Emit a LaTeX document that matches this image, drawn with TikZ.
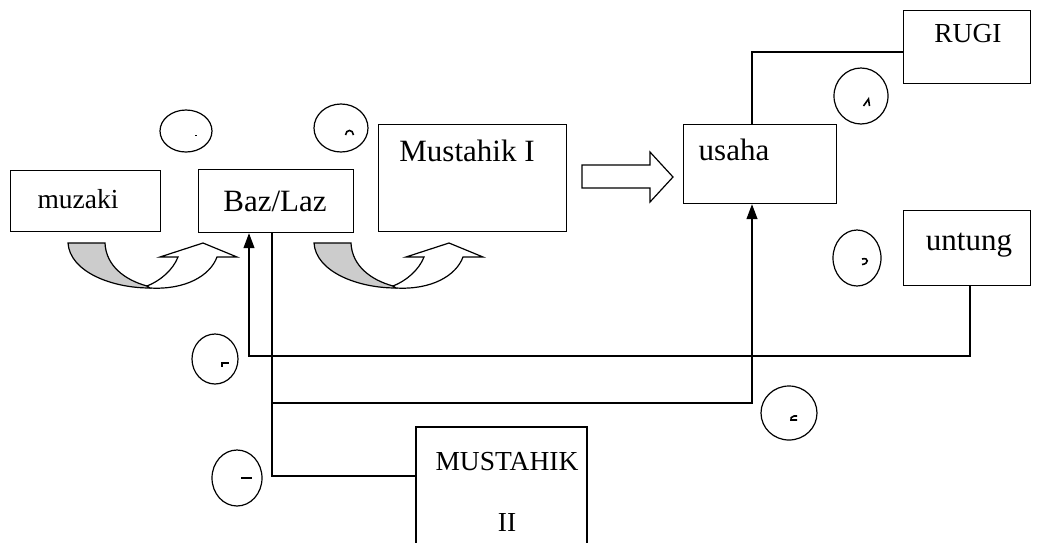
\documentclass[tikz,border=0pt]{standalone}
\usepackage{fontspec}
\setmainfont{Liberation Serif}
\usetikzlibrary{arrows.meta}
\begin{document}
\begin{tikzpicture}[x=1pt,y=-1pt,line width=1.2pt,
  box/.style={draw,rectangle,inner sep=0pt,anchor=north west},
  lbl/.style={inner sep=0pt,font=\fontsize{27.5}{33}\selectfont},
  lblb/.style={inner sep=0pt,font=\fontsize{31}{36}\selectfont},
  arr/.style={-{Triangle[length=15pt,width=11pt]}},
  frag/.style={line width=1.6pt}]
\useasboundingbox (0,0) rectangle (1041,542);
% boxes
\node[box,minimum width=150pt,minimum height=61pt] (muzaki) at (10,170) {};
\node[box,minimum width=155pt,minimum height=63pt] (baz) at (198,169) {};
\node[box,minimum width=188pt,minimum height=107pt] (must1) at (378,124) {};
\node[box,minimum width=153pt,minimum height=79pt] (usaha) at (683,124) {};
\node[box,minimum width=127pt,minimum height=73pt] (rugi) at (903,10) {};
\node[box,minimum width=127pt,minimum height=75pt] (untung) at (903,210) {};
\coordinate (m2nw) at (416,427);
\coordinate (m2ne) at (587,427);
\node[inner sep=0pt,anchor=west,minimum height=1pt] (m2) at (416,476) {};
\draw (416,560) -- (m2nw) -- (m2ne) -- (587,560);
% labels
\node[lbl] (tmuzaki) at (78,199) {muzaki};
\node[lblb] (tbaz) at (275,201) {Baz/Laz};
\node[lblb] (tmust1) at (467,151) {Mustahik I};
\node[lblb] (tusaha) at (734,150) {usaha};
\node[lbl] (trugi) at (968,34) {RUGI};
\node[lblb] (tuntung) at (969,245) {untung};
\node[lbl] (tm2a) at (507,462) {MUSTAHIK};
\node[lbl] (tm2b) at (507,522) {II};
% circles
\draw (186,131) ellipse (26pt and 21pt);
\draw (341,128) ellipse (27pt and 24pt);
\draw (861,96) ellipse (27pt and 28pt);
\draw (857,258) ellipse (24pt and 28pt);
\draw (215,359) ellipse (23pt and 25pt);
\draw (789,413) ellipse (28pt and 27pt);
\draw (237,478) ellipse (25pt and 28pt);
% clipped glyph fragments
\draw[line width=0.8pt] (195,135) -- (197,135);
\draw[frag] (345.5,135) .. controls (346,129) and (353,129) .. (353.5,135);
\draw[frag] (863.5,106) -- (868.5,99) -- (869.5,106);
\draw[frag] (862,259) .. controls (869,257) and (869,264) .. (862,264.5);
\draw[frag] (221,363) -- (229,363);
\draw[frag] (222,362.5) -- (222,367);
\draw[frag] (797,416) -- (794,416) .. controls (791,416) and (790.5,419) .. (791,420) -- (797,420);
\draw[frag] (241,478) -- (252,478);
% big block arrow
\draw (582,165) -- (650,165) -- (650,152) -- (673,177) -- (650,202) -- (650,188) -- (582,188) -- cycle;
% curved u-turn arrows
\foreach \dx in {0,246}{
  \begin{scope}[xshift=\dx pt]
  \filldraw[fill=black!20] (68,243) .. controls (70,272) and (112,288) .. (150,288)
     -- (147,286) .. controls (125,280) and (106,266) .. (105,243) -- cycle;
  \draw[fill=white] (147,286) .. controls (160,281) and (173,270) .. (178,257)
     -- (160,257) -- (203,243) -- (237,257) -- (217,257)
     .. controls (210,276) and (185,290) .. (150,288) -- cycle;
  \end{scope}
}
% connectors
\coordinate (c1) at (752,52);
\draw (usaha.north -| c1) -- (c1) -- (c1 -| rugi.west);
\coordinate (c2) at (970,356);
\coordinate (c3) at (249,356);
\draw[arr] (untung.south -| c2) -- (c2) -- (c3) -- (c3 |- baz.south);
\coordinate (c4) at (272,476);
\draw (baz.south -| c4) -- (c4) -- (m2.west);
\coordinate (c5) at (272,403);
\coordinate (c6) at (752,403);
\draw[arr] (c5) -- (c6) -- (c6 |- usaha.south);
\end{tikzpicture}
\end{document}
